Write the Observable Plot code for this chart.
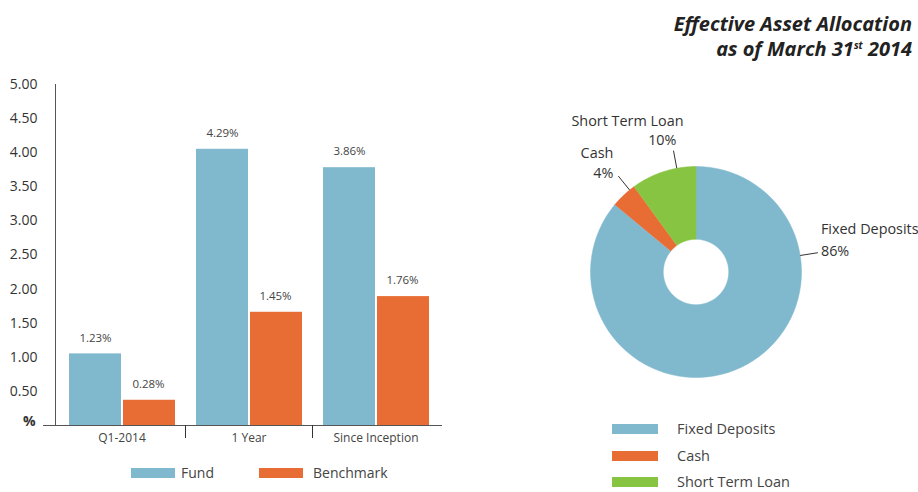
<!DOCTYPE html>
<html><head><meta charset="utf-8">
<script src="https://cdn.jsdelivr.net/npm/d3@7"></script>
<script src="https://cdn.jsdelivr.net/npm/@observablehq/plot@0.6"></script>
<style>
body{margin:0;width:918px;height:492px;position:relative;overflow:hidden;background:#fff;font-family:"Open Sans",sans-serif;}
#bars{position:absolute;left:0;top:0}
#pie{position:absolute;left:540px;top:100px}
.title{position:absolute;right:6px;top:11px;text-align:right;font-weight:700;font-style:italic;font-size:20px;line-height:25px;color:#222;white-space:nowrap}
.title sup{font-size:10px;vertical-align:7px;line-height:0}
.leg{position:absolute;color:#444}
.leg .it{display:flex;align-items:center}
.leg .sw{flex:none}
</style></head><body>
<div class="title">Effective Asset Allocation<br>as of March 31<sup>st</sup> 2014</div>
<div id="bars"></div>
<div id="pie"></div>
<div class="leg" id="barLegend" style="left:131px;top:463px;display:flex"></div>
<div class="leg" id="pieLegend" style="left:612px;top:416px"></div>
<script>
// ---------- data ----------
const categories = ["Q1-2014", "1 Year", "Since Inception"];
const seriesNames = ["Fund", "Benchmark"];
const fundValues = [1.05, 4.05, 3.78];
const benchValues = [0.37, 1.66, 1.89];
const fundLabels = ["1.23%", "4.29%", "3.86%"];
const benchLabels = ["0.28%", "1.45%", "1.76%"];
const yTicks = [0, 0.5, 1, 1.5, 2, 2.5, 3, 3.5, 4, 4.5, 5];
const yTickLabels = ["%", "0.50", "1.00", "1.50", "2.00", "2.50", "3.00", "3.50", "4.00", "4.50", "5.00"];

const allocNames = ["Fixed Deposits", "Cash", "Short Term Loan"];
const allocValues = [86, 4, 10];
const allocLabels = ["86%", "4%", "10%"];

const seriesColors = ["#80b8ce", "#e86d34"];
const allocColors = ["#80b8ce", "#e86d34", "#86c441"];

// ---------- bar chart ----------
const W = 460, H = 450, mL = 55, mR = 21, mT = 84, mB = 25, inset = 3;
const bw = (W - mL - mR - inset) / categories.length;
const barRows = [];
categories.forEach((c, i) => {
  barRows.push({category: c, series: "Fund", value: fundValues[i], label: fundLabels[i]});
  barRows.push({category: c, series: "Benchmark", value: benchValues[i], label: benchLabels[i]});
});
const fundRows = barRows.filter(d => d.series === "Fund");
const benchRows = barRows.filter(d => d.series === "Benchmark");
const gapOuter = 11, barW = 52;

const bars = Plot.plot({
  width: W, height: H,
  marginLeft: mL, marginRight: mR, marginTop: mT, marginBottom: mB,
  style: {fontFamily: "'Open Sans', sans-serif", fontSize: "12px", color: "#444", background: "transparent"},
  x: {type: "band", domain: categories, paddingInner: 0, paddingOuter: 0, insetLeft: inset, axis: null},
  y: {domain: [0, 5], axis: null},
  marks: [
    Plot.barY(fundRows, {x: "category", y: "value", fill: seriesColors[0], insetLeft: gapOuter, insetRight: bw - gapOuter - barW}),
    Plot.barY(benchRows, {x: "category", y: "value", fill: seriesColors[1], insetLeft: bw - gapOuter - barW + 1, insetRight: gapOuter - 1}),
    Plot.text(fundRows, {x: "category", y: "value", text: "label", dy: -16, dx: -(bw / 2 - gapOuter - barW / 2), fontSize: 11.5, fill: "#444"}),
    Plot.text(benchRows, {x: "category", y: "value", text: "label", dy: -16, dx: (bw / 2 - gapOuter - barW / 2), fontSize: 11.5, fill: "#444"}),
    // y axis
    Plot.ruleX([categories[0]], {y1: 0, y2: 5, dx: -(bw / 2 + inset), stroke: "#555"}),
    Plot.ruleY(yTicks.slice(1), {y: d => d, insetLeft: -12, insetRight: W - mL - mR + 12, stroke: "#555"}),
    Plot.text(yTicks.slice(1), {y: d => d, text: (d) => yTickLabels[yTicks.indexOf(d)], frameAnchor: "left", dx: -18, textAnchor: "end", fontSize: 14, fill: "#333"}),
    Plot.text([0], {y: d => d, text: () => yTickLabels[0], frameAnchor: "left", dx: -20, dy: -4, textAnchor: "end", fontSize: 14, fontWeight: "bold", fill: "#333"}),
    // x axis
    Plot.ruleY([0], {insetLeft: -12, insetRight: -inset, stroke: "#555"}),
    Plot.ruleX(categories.slice(1), {x: d => d, y1: 0, y2: 0, insetBottom: -13, dx: -bw / 2, stroke: "#333"}),
    Plot.text(categories, {x: d => d, y: 0, text: d => d, dy: 13, fontSize: 12, fill: "#444"})
  ]
});
document.getElementById("bars").appendChild(bars);

// ---------- pie chart ----------
const PW = 378, PH = 300, cx = 155.5, cy = 171.5, R = 105.5, innerFrac = 0.31;
const allocRows = allocNames.map((n, i) => ({name: n, value: allocValues[i], label: allocLabels[i]}));
const arcs = d3.pie().sort(null).value(d => d.value)(allocRows);
const arcPts = [];
arcs.forEach(a => {
  const n = 80;
  for (let k = 0; k <= n; k++) {
    const t = a.startAngle + (a.endAngle - a.startAngle) * k / n;
    arcPts.push({name: a.data.name, x: Math.sin(t), y: Math.cos(t)});
  }
  for (let k = n; k >= 0; k--) {
    const t = a.startAngle + (a.endAngle - a.startAngle) * k / n;
    arcPts.push({name: a.data.name, x: innerFrac * Math.sin(t), y: innerFrac * Math.cos(t)});
  }
});

// annotation layout (leader angle in degrees clockwise from top, text offsets in px)
const noteLayout = {
  "Fixed Deposits": {angle: 81, name: {dx: 3, dy: -23, anchor: "start"}, pct: {dx: 3, dy: -1, anchor: "start"}},
  "Cash": {angle: 321, name: {dx: -5, dy: -23, anchor: "end"}, pct: {dx: -5, dy: -3, anchor: "end"}},
  "Short Term Loan": {angle: 349.5, name: {dx: -46, dy: -29, anchor: "middle"}, pct: {dx: 3, dy: -10, anchor: "end"}}
};
const notes = allocRows.map(d => {
  const L = noteLayout[d.name], t = L.angle * Math.PI / 180;
  return {...d, L, x1: Math.sin(t), y1: Math.cos(t), x2: 1.17 * Math.sin(t), y2: 1.17 * Math.cos(t)};
});
const noteText = (key) => ["start", "end", "middle"].flatMap(anchor =>
  notes.filter(n => n.L[key].anchor === anchor).map(n => Plot.text([n], {
    x: "x2", y: "y2", text: key === "name" ? "name" : "label",
    dx: n.L[key].dx, dy: n.L[key].dy, textAnchor: anchor, fontSize: 14.4, fill: "#333"
  }))
);

const pie = Plot.plot({
  width: PW, height: PH, margin: 0,
  style: {fontFamily: "'Open Sans', sans-serif", overflow: "visible", background: "transparent"},
  x: {domain: [-1, 1], range: [cx - R, cx + R], axis: null},
  y: {domain: [-1, 1], range: [cy + R, cy - R], axis: null},
  color: {domain: allocNames, range: allocColors},
  marks: [
    Plot.line(arcPts, {x: "x", y: "y", z: "name", fill: "name", stroke: "name", strokeWidth: 0.5, curve: "linear"}),
    Plot.link(notes, {x1: "x1", y1: "y1", x2: "x2", y2: "y2", stroke: "#333", strokeWidth: 1}),
    ...noteText("name"),
    ...noteText("pct")
  ]
});
document.getElementById("pie").appendChild(pie);

// ---------- HTML legends ----------
const bl = document.getElementById("barLegend");
seriesNames.forEach((s, i) => {
  const it = document.createElement("div");
  it.className = "it";
  it.style.width = i === 0 ? "128px" : "auto";
  it.style.height = "20px";
  it.innerHTML = `<span class="sw" style="width:44px;height:10px;background:${seriesColors[i]};margin-right:${i === 0 ? 6 : 10}px"></span><span style="font-size:14px;line-height:18px">${s}</span>`;
  bl.appendChild(it);
});
const pl = document.getElementById("pieLegend");
allocNames.forEach((s, i) => {
  const it = document.createElement("div");
  it.className = "it";
  it.style.height = "26.5px";
  it.innerHTML = `<span class="sw" style="width:46px;height:10px;background:${allocColors[i]};margin-right:19px"></span><span style="font-size:14.5px;line-height:18px">${s}</span>`;
  pl.appendChild(it);
});
</script>
</body></html>
